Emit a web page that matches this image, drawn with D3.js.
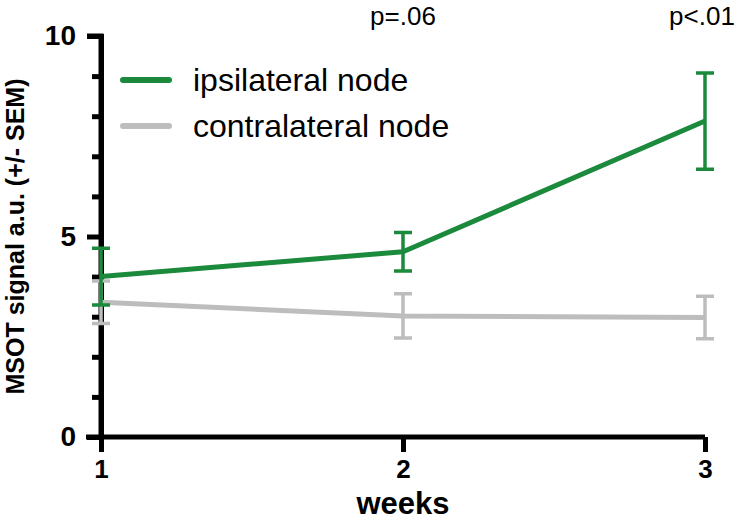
<!DOCTYPE html>
<html>
<head>
<meta charset="utf-8">
<script src="https://cdn.jsdelivr.net/npm/d3@7"></script>
<style>
  body { margin: 0; background: #fff; }
  svg { font-family: "Liberation Sans", Arial, sans-serif; }
</style>
</head>
<body>
<div id="chart"></div>
<script>
// data
const weeks = [1, 2, 3];
const ipsiMean = [4.0, 4.62, 7.88];
const ipsiSem = [0.71, 0.48, 1.2];
const contraMean = [3.36, 3.02, 2.98];
const contraSem = [0.53, 0.55, 0.53];
const seriesNames = ["ipsilateral node", "contralateral node"];
const seriesColors = ["#1b8a3c", "#bdbdbd"];
const pLabels = [{ week: 2, text: "p=.06" }, { week: 3, text: "p<.01" }];
const yMajor = [0, 5, 10];
const yMinor = [1, 2, 3, 4, 6, 7, 8, 9];

const width = 735, height = 521;
const margin = { top: 36, right: 30, bottom: 84, left: 101 };

const svg = d3.select('#chart')
    .append('svg')
    .attr('width', width)
    .attr('height', height);

const x = d3.scaleLinear().domain([1, 3]).range([margin.left, 705]);
const y = d3.scaleLinear().domain([0, 10]).range([height - margin.bottom, margin.top]);

// axes
const yAxis = svg.append('g')
    .attr('transform', `translate(${margin.left},0)`)
    .call(d3.axisLeft(y).tickValues(yMajor).tickSize(14).tickPadding(11).tickFormat(d3.format('d')));
yAxis.append('g')
    .call(d3.axisLeft(y).tickValues(yMinor).tickSize(9).tickFormat(''));

const xAxis = svg.append('g')
    .attr('transform', `translate(0,${y(0)})`)
    .call(d3.axisBottom(x).tickValues(weeks).tickSize(15).tickPadding(8).tickFormat(d3.format('d')));

svg.selectAll('.domain').attr('stroke', '#000').attr('stroke-width', 5);
svg.selectAll('.tick line').attr('stroke', '#000').attr('stroke-width', 5);
svg.selectAll('.tick text')
    .attr('fill', '#000')
    .style('font-size', '26px')
    .style('font-weight', 'bold');
yAxis.selectAll('.tick text').style('font-size', '28px');
yAxis.select('.domain').attr('d', `M-14,${y(10)}H0V${y(0)}`);
xAxis.select('.domain').attr('d', `M${margin.left - 15},0H${x(3)}`);

// axis titles
svg.append('text')
    .text('weeks')
    .attr('x', x(2))
    .attr('y', 514)
    .attr('text-anchor', 'middle')
    .style('font-size', '31px')
    .style('font-weight', 'bold');

svg.append('text')
    .text('MSOT signal a.u. (+/- SEM)')
    .attr('transform', `translate(24,${(y(0) + y(10)) / 2}) rotate(-90)`)
    .attr('text-anchor', 'middle')
    .style('font-size', '25px')
    .style('font-weight', 'bold');

// series
const series = [
    { name: seriesNames[1], color: seriesColors[1], mean: contraMean, sem: contraSem },
    { name: seriesNames[0], color: seriesColors[0], mean: ipsiMean, sem: ipsiSem }
];

const line = d3.line()
    .x(d => x(d.w))
    .y(d => y(d.m));

series.forEach((s) => {
    const pts = weeks.map((w, i) => ({ w: w, m: s.mean[i], e: s.sem[i] }));
    const g = svg.append('g');

    g.selectAll('.err')
        .data(pts)
        .enter()
        .append('path')
        .attr('d', d => {
            const cx = x(d.w), hi = y(d.m + d.e), lo = y(d.m - d.e);
            return `M${cx - 9},${hi}H${cx + 9}M${cx},${hi}V${lo}M${cx - 9},${lo}H${cx + 9}`;
        })
        .attr('fill', 'none')
        .attr('stroke', s.color)
        .attr('stroke-width', 3.5);

    g.append('path')
        .datum(pts)
        .attr('d', line)
        .attr('fill', 'none')
        .attr('stroke', s.color)
        .attr('stroke-width', 5)
        .attr('stroke-linejoin', 'round');
});

// legend
seriesNames.forEach((name, i) => {
    const ly = 80 + i * 46;
    svg.append('line')
        .attr('x1', 123).attr('x2', 169)
        .attr('y1', ly).attr('y2', ly)
        .attr('stroke', seriesColors[i])
        .attr('stroke-width', 6)
        .attr('stroke-linecap', 'round');
    svg.append('text')
        .text(name)
        .attr('x', 193)
        .attr('y', ly + 11)
        .style('font-size', '32px');
});

// p values
svg.selectAll('.pval')
    .data(pLabels)
    .enter()
    .append('text')
    .text(d => d.text)
    .attr('x', d => x(d.week) - (d.week === 3 ? 3 : 0))
    .attr('y', 25)
    .attr('text-anchor', 'middle')
    .style('font-size', '26px');
</script>
</body>
</html>
